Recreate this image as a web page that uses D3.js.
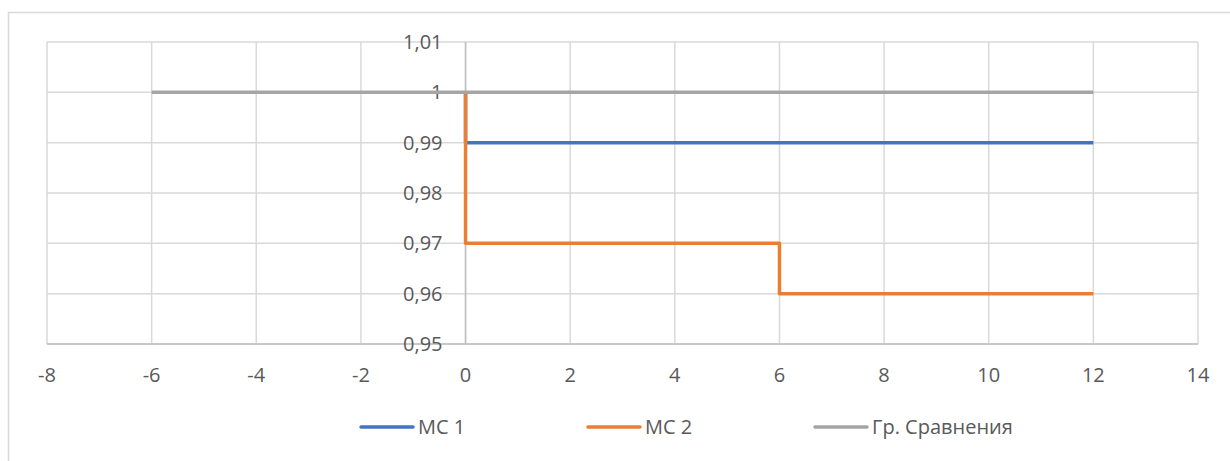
<!DOCTYPE html>
<html><head><meta charset="utf-8">
<script src="https://d3js.org/d3.v7.min.js"></script>
<style>body{margin:0;background:#fff}svg{display:block}text{font-family:"Open Sans",sans-serif;fill:#595959}</style>
</head><body><script>
const xTicks = [-8,-6,-4,-2,0,2,4,6,8,10,12,14];
const yTicks = [0.95,0.96,0.97,0.98,0.99,1.00,1.01];
const seriesNames = ["МС 1","МС 2","Гр. Сравнения"];
const mc1X = [0,0,12];
const mc1Y = [1,0.99,0.99];
const mc2X = [0,0,6,6,12];
const mc2Y = [1,0.97,0.97,0.96,0.96];
const grX = [-6,12];
const grY = [1,1];
const colors = ["#4472C4","#ED7D31","#A5A5A5"];

const W=1230,H=461;
const svg=d3.select("body").append("svg").attr("width",W).attr("height",H);
svg.append("rect").attr("x",8.5).attr("y",12.5).attr("width",1240).attr("height",460).attr("fill","#fff").attr("stroke","#d9d9d9").attr("stroke-width",1.5);

const x=d3.scaleLinear().domain([-8,14]).range([47,1198]);
const y=d3.scaleLinear().domain([0.95,1.01]).range([344,42]);

// gridlines
svg.append("g").selectAll("line").data(xTicks).join("line")
  .attr("x1",d=>x(d)).attr("x2",d=>x(d)).attr("y1",y(1.01)).attr("y2",y(0.95))
  .attr("stroke","#d9d9d9").attr("stroke-width",1.5);
svg.append("g").selectAll("line").data(yTicks).join("line")
  .attr("x1",x(-8)).attr("x2",x(14)).attr("y1",d=>y(d)).attr("y2",d=>y(d))
  .attr("stroke","#d9d9d9").attr("stroke-width",1.5);
// axis lines
svg.append("line").attr("x1",x(-8)).attr("x2",x(14)).attr("y1",y(0.95)).attr("y2",y(0.95)).attr("stroke","#bfbfbf").attr("stroke-width",1.5);
svg.append("line").attr("x1",x(0)).attr("x2",x(0)).attr("y1",y(1.01)).attr("y2",y(0.95)).attr("stroke","#bfbfbf").attr("stroke-width",1.5);

const fmt=d=>{const s=d3.format(".2f")(d).replace(/0+$/,"").replace(/\.$/,"");return s.replace(".",",");};
svg.append("g").selectAll("text").data(yTicks).join("text")
  .attr("x",x(0)-23).attr("y",d=>y(d)).attr("dy","0.35em").attr("text-anchor","end")
  .attr("font-size",20).text(fmt);
svg.append("g").selectAll("text").data(xTicks).join("text")
  .attr("x",d=>x(d)).attr("y",375).attr("dy","0.35em").attr("text-anchor","middle")
  .attr("font-size",20).text(d=>d);

const line=d3.line().x(d=>x(d[0])).y(d=>y(d[1]));
const series=[d3.zip(mc1X,mc1Y),d3.zip(mc2X,mc2Y),d3.zip(grX,grY)];
series.forEach((s,i)=>{
  svg.append("path").attr("d",line(s)).attr("fill","none").attr("stroke",colors[i])
    .attr("stroke-width",3.5).attr("stroke-linejoin","round");
});

const legX=[361,588,815];
seriesNames.forEach((n,i)=>{
  svg.append("line").attr("x1",legX[i]).attr("x2",legX[i]+52).attr("y1",427).attr("y2",427)
    .attr("stroke",colors[i]).attr("stroke-width",3.5).attr("stroke-linecap","round");
  svg.append("text").attr("x",legX[i]+57).attr("y",427).attr("dy","0.35em").attr("font-size",20).text(n);
});
</script></body></html>
